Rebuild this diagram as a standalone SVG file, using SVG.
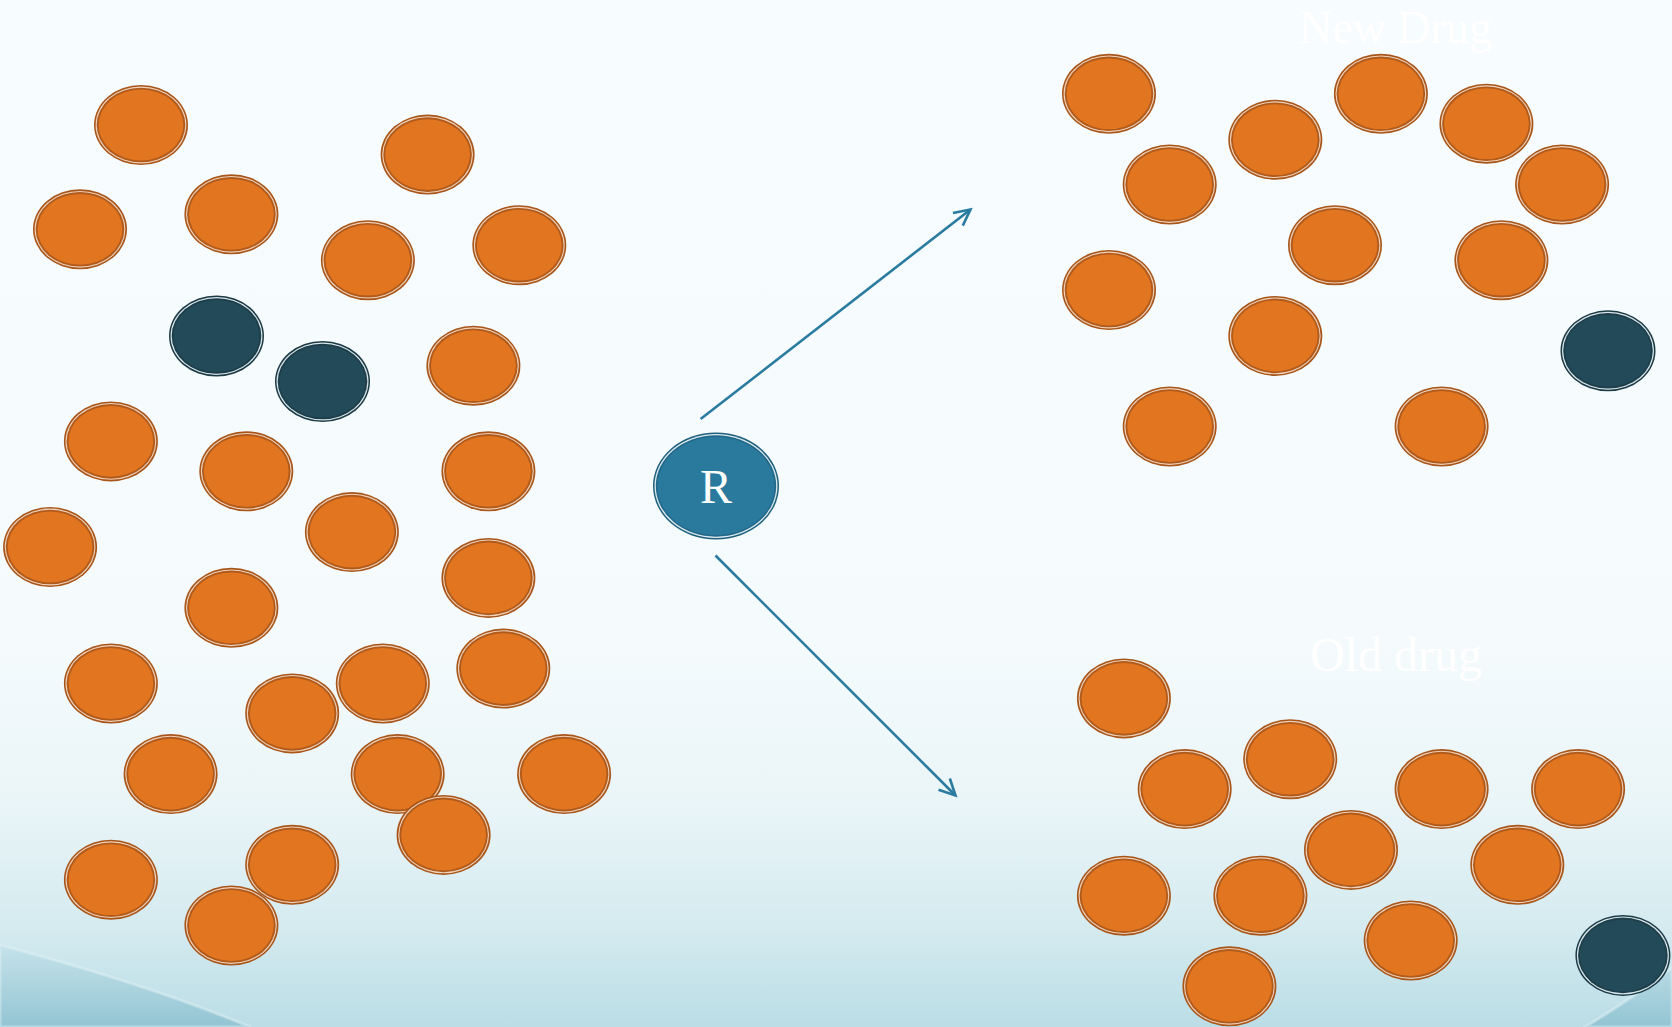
<svg xmlns="http://www.w3.org/2000/svg" xmlns:xlink="http://www.w3.org/1999/xlink" width="1672" height="1027" viewBox="0 0 1672 1027">
<style>
.oa{fill:#A8551A}
.ob{fill:#F0D2BA}
.oc{fill:#B05B1C}
.od{fill:#E2751F}
.da{fill:#1C3A46}
.db{fill:#D7E6EA}
.dc{fill:#1E3E4A}
.dd{fill:#234A58}
.conn{stroke:#2A7BA0;stroke-width:2.6;fill:none}
.lbl{font-family:"Liberation Serif","DejaVu Serif",serif;font-size:48px;fill:#FFFFFF}
</style>
<defs>
<linearGradient id="bg" x1="0" y1="0" x2="0" y2="1027" gradientUnits="userSpaceOnUse">
<stop offset="0" stop-color="#F7FCFE"/>
<stop offset="0.62" stop-color="#F5FBFD"/>
<stop offset="0.78" stop-color="#EAF5F8"/>
<stop offset="0.9" stop-color="#D5EBF0"/>
<stop offset="1" stop-color="#BBDDE6"/>
</linearGradient>
<linearGradient id="corner" x1="0" y1="930" x2="0" y2="1027" gradientUnits="userSpaceOnUse">
<stop offset="0" stop-color="#A9D2DE" stop-opacity="0.15"/>
<stop offset="1" stop-color="#88BECE" stop-opacity="0.8"/>
</linearGradient>
<g id="orb">
<ellipse rx="47" ry="40" class="oa"/>
<ellipse rx="45.4" ry="38.4" class="ob"/>
<ellipse rx="44.3" ry="37.3" class="oc"/>
<ellipse rx="42.4" ry="35.4" class="od"/>
</g>
<g id="drb">
<ellipse rx="47.5" ry="40.5" class="da"/>
<ellipse rx="46" ry="39" class="db"/>
<ellipse rx="44.8" ry="37.8" class="dc"/>
<ellipse rx="43" ry="36" class="dd"/>
</g>
<marker id="arr" markerWidth="30" markerHeight="30" refX="20" refY="10" orient="auto" markerUnits="userSpaceOnUse" viewBox="0 0 30 20">
<path d="M4,2 L20,10 L4,18" fill="none" stroke="#2A7BA0" stroke-width="2.6"/>
</marker>
</defs>
<rect x="0" y="0" width="1672" height="1027" fill="url(#bg)"/>
<path d="M0,945 Q150,985 250,1027 L0,1027 Z" fill="url(#corner)" stroke="#E2F1F5" stroke-width="3" stroke-opacity="0.45"/>
<path d="M1672,968 Q1630,1000 1585,1027 L1672,1027 Z" fill="url(#corner)" stroke="#E2F1F5" stroke-width="3" stroke-opacity="0.45"/>

<text class="lbl" x="1299" y="43" style="font-size:46px">New Drug</text>
<text class="lbl" x="1310" y="671">Old drug</text>

<g id="connectors">
<line class="conn" x1="700.6" y1="419" x2="970.5" y2="209.5" marker-end="url(#arr)"/>
<line class="conn" x1="715.5" y1="555.5" x2="955.5" y2="795.5" marker-end="url(#arr)"/>
</g>

<g id="R">
<ellipse cx="716" cy="486" rx="63" ry="53.5" fill="#1F5F7C"/>
<ellipse cx="716" cy="486" rx="61.5" ry="52" fill="#DCEBF1"/>
<ellipse cx="716" cy="486" rx="60.2" ry="50.7" fill="#24698A"/>
<ellipse cx="716" cy="486" rx="58.5" ry="49" fill="#2A7A9E"/>
<text x="716" y="503" text-anchor="middle" class="lbl">R</text>
</g>

<g id="left">
<g id="L1"><use xlink:href="#orb" x="141" y="125"/></g>
<g id="L2"><use xlink:href="#orb" x="80" y="229.3"/></g>
<g id="L3"><use xlink:href="#orb" x="231.4" y="214.3"/></g>
<g id="L4"><use xlink:href="#orb" x="427.6" y="154.6"/></g>
<g id="L5"><use xlink:href="#orb" x="367.9" y="260.2"/></g>
<g id="L6"><use xlink:href="#orb" x="519.3" y="245.2"/></g>
<g id="L7"><use xlink:href="#drb" x="216.5" y="336"/></g>
<g id="L8"><use xlink:href="#drb" x="322.5" y="381.5"/></g>
<g id="L9"><use xlink:href="#orb" x="473.4" y="365.7"/></g>
<g id="L10"><use xlink:href="#orb" x="110.9" y="441.4"/></g>
<g id="L11"><use xlink:href="#orb" x="246.3" y="471.3"/></g>
<g id="L12"><use xlink:href="#orb" x="488.4" y="471.3"/></g>
<g id="L13"><use xlink:href="#orb" x="50.1" y="547"/></g>
<g id="L14"><use xlink:href="#orb" x="351.9" y="532.1"/></g>
<g id="L15"><use xlink:href="#orb" x="488.4" y="577.9"/></g>
<g id="L16"><use xlink:href="#orb" x="231.4" y="607.8"/></g>
<g id="L17"><use xlink:href="#orb" x="110.9" y="683.5"/></g>
<g id="L18"><use xlink:href="#orb" x="292.2" y="713.4"/></g>
<g id="L19"><use xlink:href="#orb" x="382.8" y="683.5"/></g>
<g id="L20"><use xlink:href="#orb" x="503.3" y="668.6"/></g>
<g id="L21"><use xlink:href="#orb" x="170.6" y="774.1"/></g>
<g id="L22"><use xlink:href="#orb" x="397.7" y="774.1"/></g>
<g id="L23"><use xlink:href="#orb" x="564.1" y="774.1"/></g>
<g id="L24"><use xlink:href="#orb" x="443.6" y="834.9"/></g>
<g id="L25"><use xlink:href="#orb" x="110.9" y="879.7"/></g>
<g id="L26"><use xlink:href="#orb" x="292.2" y="864.8"/></g>
<g id="L27"><use xlink:href="#orb" x="231.4" y="925.5"/></g>
</g>

<g id="newdrug">
<g id="N1"><use xlink:href="#orb" x="1109" y="93.8"/></g>
<g id="N2"><use xlink:href="#orb" x="1380.9" y="93.8"/></g>
<g id="N3"><use xlink:href="#orb" x="1275.3" y="139.7"/></g>
<g id="N4"><use xlink:href="#orb" x="1486.4" y="123.7"/></g>
<g id="N5"><use xlink:href="#orb" x="1169.7" y="184.5"/></g>
<g id="N6"><use xlink:href="#orb" x="1562.1" y="184.5"/></g>
<g id="N7"><use xlink:href="#orb" x="1335" y="245.2"/></g>
<g id="N8"><use xlink:href="#orb" x="1501.4" y="260.2"/></g>
<g id="N9"><use xlink:href="#orb" x="1109" y="290"/></g>
<g id="N10"><use xlink:href="#orb" x="1275.3" y="335.9"/></g>
<g id="N11"><use xlink:href="#drb" x="1608" y="350.8"/></g>
<g id="N12"><use xlink:href="#orb" x="1169.7" y="426.5"/></g>
<g id="N13"><use xlink:href="#orb" x="1441.6" y="426.5"/></g>
</g>

<g id="olddrug">
<g id="O1"><use xlink:href="#orb" x="1123.9" y="698.4"/></g>
<g id="O2"><use xlink:href="#orb" x="1290.2" y="759.2"/></g>
<g id="O3"><use xlink:href="#orb" x="1184.7" y="789.1"/></g>
<g id="O4"><use xlink:href="#orb" x="1441.6" y="789.1"/></g>
<g id="O5"><use xlink:href="#orb" x="1578.1" y="789.1"/></g>
<g id="O6"><use xlink:href="#orb" x="1351" y="849.9"/></g>
<g id="O7"><use xlink:href="#orb" x="1517.3" y="864.8"/></g>
<g id="O8"><use xlink:href="#orb" x="1123.9" y="895.7"/></g>
<g id="O9"><use xlink:href="#orb" x="1260.4" y="895.7"/></g>
<g id="O10"><use xlink:href="#orb" x="1410.7" y="940.5"/></g>
<g id="O11"><use xlink:href="#orb" x="1229.4" y="986.3"/></g>
<g id="O12"><use xlink:href="#drb" x="1622.9" y="955.4"/></g>
</g>
</svg>
